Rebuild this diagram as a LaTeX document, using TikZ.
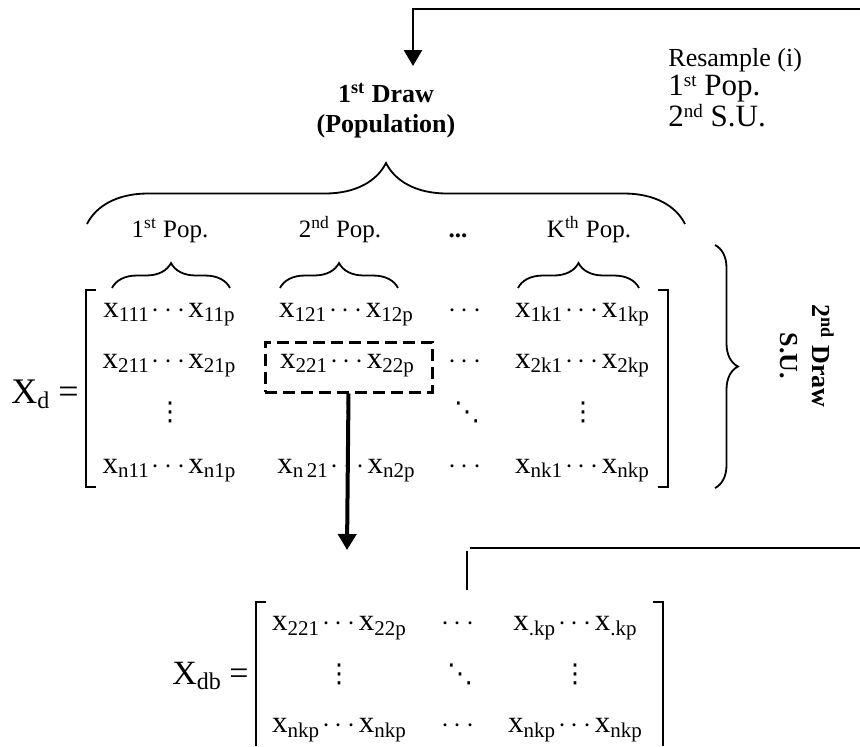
\documentclass[tikz,border=0pt]{standalone}
\usepackage{fontspec}
\setmainfont{Liberation Serif}
\newfontfamily\dotfont{DejaVu Sans}
\usepackage{tikz}
\usetikzlibrary{arrows.meta,decorations.pathreplacing}
\newcommand{\sbs}[1]{\raisebox{-0.35ex}{\fontsize{10.5}{11}\selectfont #1}}
\newcommand{\sps}[1]{\raisebox{0.6ex}{\fontsize{9.5}{10}\selectfont #1}}
\newcommand{\xpair}[2]{x\sbs{#1}\kern1.5pt$\cdots$\kern1.5pt x\sbs{#2}}
\newcommand{\vdt}{{\dotfont ⋮}}
\newcommand{\ddt}{{\dotfont ⋱}}

\begin{document}
\begin{tikzpicture}[
  x=0.5pt, y=-0.5pt,
  ent/.style={anchor=base, inner sep=0pt, font=\fontsize{15.5}{17}\selectfont},
  dts/.style={anchor=center, inner sep=0pt, font=\fontsize{13}{15}\selectfont},
  lbl/.style={anchor=base, inner sep=0pt, font=\fontsize{12.5}{15}\selectfont},
  hdr/.style={anchor=base, inner sep=0pt, font=\bfseries\fontsize{13}{16}\selectfont},
  rtxt/.style={anchor=base west, inner sep=0pt},
  brc/.style={decorate, decoration={brace, amplitude=#1}, line width=0.9pt},
  brk/.style={line width=0.7pt},
  lin/.style={line width=1pt},
  arr/.style={-{Triangle[width=9pt,length=8pt]}},
  dashbox/.style={draw, dash pattern=on 6pt off 3pt, line width=1.5pt,
    minimum width=83.5pt, minimum height=25pt, inner sep=0pt}
]
  \useasboundingbox (0,0) rectangle (860,746);

  % resample loop at the top
  \coordinate (topR) at (860,9);
  \coordinate (topC) at (413,9);
  \coordinate (tipA) at (413,66);
  \draw[arr, line width=1.3pt] (topR) -- (topC) -- (tipA);

  \node[hdr] (draw1) at (386,102) {1\textsuperscript{st} Draw};
  \node[hdr] (draw1b) at (386,132) {(Population)};

  \node[rtxt, font=\fontsize{13}{14}\selectfont] (resamp) at (668,66) {Resample (i)};
  \node[rtxt, font=\fontsize{15.5}{17}\selectfont] (rpop) at (668,95) {1\sps{st} Pop.};
  \node[rtxt, font=\fontsize{15.5}{17}\selectfont] (rsu) at (668,126) {2\sps{nd} S.U.};

  % population braces
  \draw[brc=30.5pt] (87,224) -- (685,224);
  \node[lbl] (pop1) at (170,237) {1\textsuperscript{st} Pop.};
  \node[lbl] (pop2) at (340,237) {2\textsuperscript{nd} Pop.};
  \node[lbl] (popd) at (458,237) {\textbf{...}};
  \node[lbl] (popk) at (589,237) {K\textsuperscript{th} Pop.};
  \draw[brc=12.5pt] (112,288) -- (230,288);
  \draw[brc=12.5pt] (280,288) -- (398,288);
  \draw[brc=12.5pt] (518,288) -- (639,288);

  % data matrix X_d
  \node[anchor=base east, inner sep=0pt, font=\fontsize{18}{20}\selectfont] (Xd) at (79,403)
    {X\raisebox{-0.35ex}{\fontsize{12}{13}\selectfont d} =};
  \draw[brk] (96,290) -- (86,290) -- (86,487) -- (96,487);
  \draw[brk] (658,290) -- (668,290) -- (668,487) -- (658,487);

  \node[ent] (a11) at (169,317) {\xpair{111}{11p}};
  \node[ent] (a12) at (346,317) {\xpair{121}{12p}};
  \node[ent] (a13) at (465,317) {$\cdots$};
  \node[ent] (a14) at (582,317) {\xpair{1k1}{1kp}};

  \node[ent] (a21) at (169,368) {\xpair{211}{21p}};
  \node[ent] (a22) at (347,368) {\xpair{221}{22p}};
  \node[ent] (a23) at (465,368) {$\cdots$};
  \node[ent] (a24) at (582,368) {\xpair{2k1}{2kp}};

  \node[dts] (a31) at (170,412) {\vdt};
  \node[dts] (a32) at (348,412) {\vdt};
  \node[dts] (a33) at (467,412) {\ddt};
  \node[dts] (a34) at (583,412) {\vdt};

  \node[ent] (a41) at (169,473) {\xpair{n11}{n1p}};
  \node[ent] (a42) at (346,473) {\xpair{n\,21}{n2p}};
  \node[ent] (a43) at (465,473) {$\cdots$};
  \node[ent] (a44) at (582,473) {\xpair{nk1}{nkp}};

  \node[dashbox] (pick) at (348.5,367) {};

  % second draw brace
  \draw[brc=11.5pt] (715,245) -- (715,488);
  \node[hdr, anchor=center, align=center, rotate=-90] (draw2) at (807,356)
    {2\textsuperscript{nd} Draw\\S.U.};

  % selected block goes down
  \coordinate (tipB) at (347,550);
  \draw[arr, line width=2pt] (pick.south) -- (tipB);

  \coordinate (lowR) at (860,548);
  \coordinate (lowC) at (470,548);
  \coordinate (stubT) at (467,551);
  \coordinate (stubB) at (467,590);
  \draw[lin] (lowR) -- (lowC);
  \draw[lin] (stubT) -- (stubB);

  % bootstrap matrix X_db
  \node[anchor=base east, inner sep=0pt, font=\fontsize{17}{19}\selectfont] (Xdb) at (249,684)
    {X\raisebox{-0.35ex}{\fontsize{12}{13}\selectfont db} =};
  \draw[brk] (266,602) -- (256,602) -- (256,746);
  \draw[brk] (653,602) -- (663,602) -- (663,746);

  \node[ent] (b11) at (339,630) {\xpair{221}{22p}};
  \node[ent] (b12) at (458,630) {$\cdots$};
  \node[ent] (b13) at (575,630) {\xpair{.kp}{.kp}};

  \node[dts] (b21) at (339,674) {\vdt};
  \node[dts] (b22) at (460,674) {\ddt};
  \node[dts] (b23) at (575,674) {\vdt};

  \node[ent] (b31) at (339,732) {\xpair{nkp}{nkp}};
  \node[ent] (b32) at (458,732) {$\cdots$};
  \node[ent] (b33) at (575,732) {\xpair{nkp}{nkp}};
\end{tikzpicture}
\end{document}
